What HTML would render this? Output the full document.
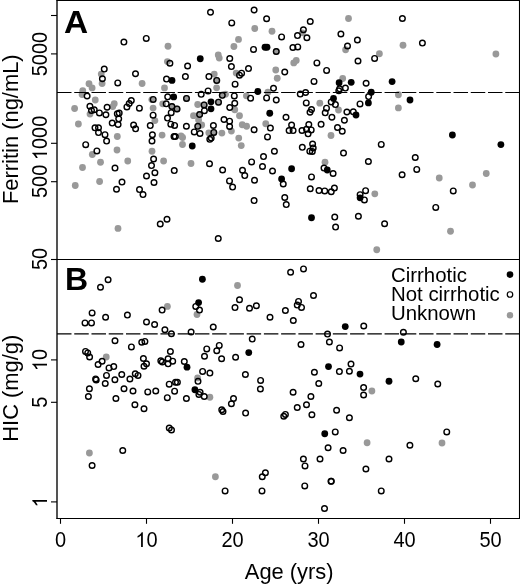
<!DOCTYPE html><html><head><meta charset="utf-8"><style>html,body{margin:0;padding:0;background:#fff}svg{display:block;will-change:transform}</style></head><body><svg width="520" height="586" viewBox="0 0 520 586">
<rect width="520" height="586" fill="#fff"/>
<g fill="none" stroke="#000" stroke-width="1.1">
<path d="M56.5,0.5 H519.5 M519.5,0 V519 M56.5,518.5 H519.5 M56.5,259.5 H519.5"/>
<path d="M57,0 V519" stroke-width="1.35"/>
</g>
<g stroke="#000" stroke-width="1.1">
<path d="M51,15.5 H57"/>
<path d="M51,53.9 H57"/>
<path d="M51,143.3 H57"/>
<path d="M51,181.7 H57"/>
<path d="M51,259.5 H57"/>
<path d="M51,359.9 H57"/>
<path d="M51,402.3 H57"/>
<path d="M51,501.9 H57"/>
<path d="M60.5,518.5 V523.8"/>
<path d="M146.5,518.5 V523.8"/>
<path d="M232.5,518.5 V523.8"/>
<path d="M318.5,518.5 V523.8"/>
<path d="M404.5,518.5 V523.8"/>
<path d="M490.5,518.5 V523.8"/>
</g>
<g font-family="Liberation Sans, sans-serif" font-size="20" fill="#000">
<g transform="translate(60.5,547)"><text transform="translate(-5.56,0) scale(1,1.065)">0</text></g>
<g transform="translate(146.5,547)"><path transform="translate(-11.12,0) scale(0.00977,-0.00996)" d="M763 0L583 0L583 1147Q518 1085 412.5 1023Q307 961 223 930L223 1104Q374 1175 487 1276Q600 1377 647 1472L763 1472Z"/><text transform="translate(0.00,0) scale(1,1.065)">0</text></g>
<g transform="translate(232.5,547)"><text transform="translate(-11.12,0) scale(1,1.065)">2</text><text transform="translate(0.00,0) scale(1,1.065)">0</text></g>
<g transform="translate(318.5,547)"><text transform="translate(-11.12,0) scale(1,1.065)">3</text><text transform="translate(0.00,0) scale(1,1.065)">0</text></g>
<g transform="translate(404.5,547)"><text transform="translate(-11.12,0) scale(1,1.065)">4</text><text transform="translate(0.00,0) scale(1,1.065)">0</text></g>
<g transform="translate(490.5,547)"><text transform="translate(-11.12,0) scale(1,1.065)">5</text><text transform="translate(0.00,0) scale(1,1.065)">0</text></g>
<g transform="translate(47,54.1) rotate(-90)"><text transform="translate(-22.25,0) scale(1,1.065)">5</text><text transform="translate(-11.12,0) scale(1,1.065)">0</text><text transform="translate(0.00,0) scale(1,1.065)">0</text><text transform="translate(11.12,0) scale(1,1.065)">0</text></g>
<g transform="translate(47,137.9) rotate(-90)"><path transform="translate(-22.25,0) scale(0.00977,-0.00996)" d="M763 0L583 0L583 1147Q518 1085 412.5 1023Q307 961 223 930L223 1104Q374 1175 487 1276Q600 1377 647 1472L763 1472Z"/><text transform="translate(-11.12,0) scale(1,1.065)">0</text><text transform="translate(0.00,0) scale(1,1.065)">0</text><text transform="translate(11.12,0) scale(1,1.065)">0</text></g>
<g transform="translate(47,181.4) rotate(-90)"><text transform="translate(-16.68,0) scale(1,1.065)">5</text><text transform="translate(-5.56,0) scale(1,1.065)">0</text><text transform="translate(5.56,0) scale(1,1.065)">0</text></g>
<g transform="translate(47,258.9) rotate(-90)"><text transform="translate(-11.12,0) scale(1,1.065)">5</text><text transform="translate(0.00,0) scale(1,1.065)">0</text></g>
<g transform="translate(47,360.0) rotate(-90)"><path transform="translate(-11.12,0) scale(0.00977,-0.00996)" d="M763 0L583 0L583 1147Q518 1085 412.5 1023Q307 961 223 930L223 1104Q374 1175 487 1276Q600 1377 647 1472L763 1472Z"/><text transform="translate(0.00,0) scale(1,1.065)">0</text></g>
<g transform="translate(47,402.2) rotate(-90)"><text transform="translate(-5.56,0) scale(1,1.065)">5</text></g>
<g transform="translate(47,501.9) rotate(-90)"><path transform="translate(-5.56,0) scale(0.00977,-0.00996)" d="M763 0L583 0L583 1147Q518 1085 412.5 1023Q307 961 223 930L223 1104Q374 1175 487 1276Q600 1377 647 1472L763 1472Z"/></g>
</g>
<g font-family="Liberation Sans, sans-serif" font-size="21.9" text-anchor="middle" fill="#000">
<text x="289.2" y="579">Age (yrs)</text>
<text transform="translate(17.7,129.2) rotate(-90)">Ferritin (ng/mL)</text>
<text transform="translate(17.7,388.2) rotate(-90)">HIC (mg/g)</text>
</g>
<g font-family="Liberation Sans, sans-serif" font-size="32" font-weight="bold" fill="#000">
<text transform="translate(63.9,32.7) scale(1.045,1)">A</text>
<text x="64.9" y="290.3">B</text>
</g>
<g font-family="Liberation Sans, sans-serif" font-size="20.4" fill="#000">
<text x="391" y="282.1">Cirrhotic</text>
<text x="391" y="301.2">Not cirrhotic</text>
<text x="391" y="320.4">Unknown</text>
</g>
<circle cx="510" cy="274.6" r="3.3" fill="#000"/>
<circle cx="510" cy="294.5" r="2.75" fill="#fff" stroke="#000" stroke-width="1.2"/>
<circle cx="510" cy="315.2" r="3.2" fill="#999"/>
<circle cx="168.0" cy="46.25" r="3.4" fill="#999"/>
<circle cx="233.9" cy="46.5" r="3.4" fill="#999"/>
<circle cx="218.25" cy="55.0" r="3.4" fill="#999"/>
<circle cx="219.25" cy="58.1" r="3.4" fill="#999"/>
<circle cx="254.75" cy="28.5" r="3.4" fill="#999"/>
<circle cx="272.0" cy="31.25" r="3.4" fill="#999"/>
<circle cx="238.5" cy="39.4" r="3.4" fill="#999"/>
<circle cx="276.25" cy="51.5" r="3.4" fill="#999"/>
<circle cx="302.3" cy="32.8" r="3.4" fill="#999"/>
<circle cx="348.5" cy="18.5" r="3.4" fill="#999"/>
<circle cx="345.6" cy="49.75" r="3.4" fill="#999"/>
<circle cx="403.0" cy="45.25" r="3.4" fill="#999"/>
<circle cx="379.4" cy="53.75" r="3.4" fill="#999"/>
<circle cx="495.9" cy="54.0" r="3.4" fill="#999"/>
<circle cx="101.25" cy="74.1" r="3.4" fill="#999"/>
<circle cx="102.1" cy="83.5" r="3.4" fill="#999"/>
<circle cx="89.0" cy="83.75" r="3.4" fill="#999"/>
<circle cx="92.1" cy="87.9" r="3.4" fill="#999"/>
<circle cx="82.75" cy="90.75" r="3.4" fill="#999"/>
<circle cx="82.1" cy="94.5" r="3.4" fill="#999"/>
<circle cx="95.25" cy="100.0" r="3.4" fill="#999"/>
<circle cx="74.6" cy="108.5" r="3.4" fill="#999"/>
<circle cx="90.0" cy="114.1" r="3.4" fill="#999"/>
<circle cx="114.25" cy="103.75" r="3.4" fill="#999"/>
<circle cx="112.75" cy="106.6" r="3.4" fill="#999"/>
<circle cx="167.4" cy="61.6" r="3.4" fill="#999"/>
<circle cx="142.1" cy="83.5" r="3.4" fill="#999"/>
<circle cx="164.5" cy="87.9" r="3.4" fill="#999"/>
<circle cx="151.8" cy="99.6" r="3.4" fill="#999"/>
<circle cx="153.1" cy="108.1" r="3.4" fill="#999"/>
<circle cx="162.7" cy="103.8" r="3.4" fill="#999"/>
<circle cx="171.9" cy="106.5" r="3.4" fill="#999"/>
<circle cx="214.25" cy="74.1" r="3.4" fill="#999"/>
<circle cx="216.5" cy="80.2" r="3.4" fill="#999"/>
<circle cx="216.6" cy="87.8" r="3.4" fill="#999"/>
<circle cx="222.3" cy="95.3" r="3.4" fill="#999"/>
<circle cx="225.5" cy="94.2" r="3.4" fill="#999"/>
<circle cx="186.5" cy="98.4" r="3.4" fill="#999"/>
<circle cx="218.5" cy="102.2" r="3.4" fill="#999"/>
<circle cx="197.7" cy="104.5" r="3.4" fill="#999"/>
<circle cx="204.1" cy="104.9" r="3.4" fill="#999"/>
<circle cx="199.6" cy="114.5" r="3.4" fill="#999"/>
<circle cx="193.5" cy="115.7" r="3.4" fill="#999"/>
<circle cx="177.0" cy="108.9" r="3.4" fill="#999"/>
<circle cx="236.2" cy="73.1" r="3.4" fill="#999"/>
<circle cx="275.75" cy="70.0" r="3.4" fill="#999"/>
<circle cx="277.25" cy="78.25" r="3.4" fill="#999"/>
<circle cx="267.9" cy="92.25" r="3.4" fill="#999"/>
<circle cx="246.4" cy="95.8" r="3.4" fill="#999"/>
<circle cx="234.75" cy="109.75" r="3.4" fill="#999"/>
<circle cx="239.5" cy="115.75" r="3.4" fill="#999"/>
<circle cx="296.25" cy="60.4" r="3.4" fill="#999"/>
<circle cx="293.75" cy="62.9" r="3.4" fill="#999"/>
<circle cx="342.7" cy="78.5" r="3.4" fill="#999"/>
<circle cx="319.8" cy="103.2" r="3.4" fill="#999"/>
<circle cx="338.5" cy="110.0" r="3.4" fill="#999"/>
<circle cx="398.4" cy="94.75" r="3.4" fill="#999"/>
<circle cx="398.4" cy="107.9" r="3.4" fill="#999"/>
<circle cx="78.4" cy="124.0" r="3.4" fill="#999"/>
<circle cx="92.3" cy="154.5" r="3.4" fill="#999"/>
<circle cx="100.5" cy="162.25" r="3.4" fill="#999"/>
<circle cx="82.5" cy="167.5" r="3.4" fill="#999"/>
<circle cx="154.9" cy="120.6" r="3.4" fill="#999"/>
<circle cx="117.3" cy="136.5" r="3.4" fill="#999"/>
<circle cx="162.1" cy="135.1" r="3.4" fill="#999"/>
<circle cx="117.0" cy="150.0" r="3.4" fill="#999"/>
<circle cx="152.0" cy="151.25" r="3.4" fill="#999"/>
<circle cx="127.75" cy="161.0" r="3.4" fill="#999"/>
<circle cx="163.6" cy="161.0" r="3.4" fill="#999"/>
<circle cx="198.6" cy="120.0" r="3.4" fill="#999"/>
<circle cx="201.7" cy="125.0" r="3.4" fill="#999"/>
<circle cx="197.8" cy="126.3" r="3.4" fill="#999"/>
<circle cx="182.6" cy="137.5" r="3.4" fill="#999"/>
<circle cx="181.0" cy="135.8" r="3.4" fill="#999"/>
<circle cx="182.5" cy="144.5" r="3.4" fill="#999"/>
<circle cx="208.8" cy="132.8" r="3.4" fill="#999"/>
<circle cx="213.8" cy="132.4" r="3.4" fill="#999"/>
<circle cx="221.9" cy="133.1" r="3.4" fill="#999"/>
<circle cx="231.4" cy="131.1" r="3.4" fill="#999"/>
<circle cx="191.0" cy="163.5" r="3.4" fill="#999"/>
<circle cx="242.25" cy="124.75" r="3.4" fill="#999"/>
<circle cx="246.6" cy="126.25" r="3.4" fill="#999"/>
<circle cx="265.75" cy="123.75" r="3.4" fill="#999"/>
<circle cx="238.75" cy="138.1" r="3.4" fill="#999"/>
<circle cx="241.25" cy="145.6" r="3.4" fill="#999"/>
<circle cx="331.0" cy="135.5" r="3.4" fill="#999"/>
<circle cx="325.0" cy="162.25" r="3.4" fill="#999"/>
<circle cx="486.25" cy="173.5" r="3.4" fill="#999"/>
<circle cx="75.25" cy="185.5" r="3.4" fill="#999"/>
<circle cx="99.6" cy="181.5" r="3.4" fill="#999"/>
<circle cx="118.0" cy="228.4" r="3.4" fill="#999"/>
<circle cx="374.8" cy="193.8" r="3.4" fill="#999"/>
<circle cx="439.25" cy="178.0" r="3.4" fill="#999"/>
<circle cx="450.5" cy="231.25" r="3.4" fill="#999"/>
<circle cx="472.5" cy="185.0" r="3.4" fill="#999"/>
<circle cx="376.75" cy="249.75" r="3.4" fill="#999"/>
<circle cx="167.4" cy="306.4" r="3.4" fill="#999"/>
<circle cx="197.0" cy="314.5" r="3.4" fill="#999"/>
<circle cx="237.5" cy="285.5" r="3.4" fill="#999"/>
<circle cx="106.25" cy="357.0" r="3.4" fill="#999"/>
<circle cx="197.6" cy="377.9" r="3.4" fill="#999"/>
<circle cx="209.9" cy="397.25" r="3.4" fill="#999"/>
<circle cx="371.9" cy="391.0" r="3.4" fill="#999"/>
<circle cx="89.4" cy="453.0" r="3.4" fill="#999"/>
<circle cx="215.4" cy="476.75" r="3.4" fill="#999"/>
<circle cx="367.1" cy="442.75" r="3.4" fill="#999"/>
<circle cx="442.0" cy="443.0" r="3.4" fill="#999"/>
<circle cx="123.9" cy="42.1" r="2.8" fill="none" stroke="#000" stroke-width="1.4"/>
<circle cx="146.25" cy="38.4" r="2.8" fill="none" stroke="#000" stroke-width="1.4"/>
<circle cx="210.5" cy="12.25" r="2.8" fill="none" stroke="#000" stroke-width="1.4"/>
<circle cx="231.75" cy="22.9" r="2.8" fill="none" stroke="#000" stroke-width="1.4"/>
<circle cx="229.75" cy="58.5" r="2.8" fill="none" stroke="#000" stroke-width="1.4"/>
<circle cx="254.1" cy="10.0" r="2.8" fill="none" stroke="#000" stroke-width="1.4"/>
<circle cx="266.6" cy="18.75" r="2.8" fill="none" stroke="#000" stroke-width="1.4"/>
<circle cx="281.6" cy="36.9" r="2.8" fill="none" stroke="#000" stroke-width="1.4"/>
<circle cx="253.5" cy="49.4" r="2.8" fill="none" stroke="#000" stroke-width="1.4"/>
<circle cx="276.25" cy="51.5" r="2.8" fill="none" stroke="#000" stroke-width="1.4"/>
<circle cx="292.9" cy="47.5" r="2.8" fill="none" stroke="#000" stroke-width="1.4"/>
<circle cx="310.25" cy="21.5" r="2.8" fill="none" stroke="#000" stroke-width="1.4"/>
<circle cx="303.4" cy="29.75" r="2.8" fill="none" stroke="#000" stroke-width="1.4"/>
<circle cx="297.5" cy="35.6" r="2.8" fill="none" stroke="#000" stroke-width="1.4"/>
<circle cx="306.9" cy="37.75" r="2.8" fill="none" stroke="#000" stroke-width="1.4"/>
<circle cx="297.75" cy="46.9" r="2.8" fill="none" stroke="#000" stroke-width="1.4"/>
<circle cx="340.9" cy="34.0" r="2.8" fill="none" stroke="#000" stroke-width="1.4"/>
<circle cx="347.5" cy="46.0" r="2.8" fill="none" stroke="#000" stroke-width="1.4"/>
<circle cx="402.4" cy="18.5" r="2.8" fill="none" stroke="#000" stroke-width="1.4"/>
<circle cx="357.4" cy="40.0" r="2.8" fill="none" stroke="#000" stroke-width="1.4"/>
<circle cx="374.6" cy="58.4" r="2.8" fill="none" stroke="#000" stroke-width="1.4"/>
<circle cx="422.4" cy="43.1" r="2.8" fill="none" stroke="#000" stroke-width="1.4"/>
<circle cx="104.25" cy="69.1" r="2.8" fill="none" stroke="#000" stroke-width="1.4"/>
<circle cx="102.4" cy="78.75" r="2.8" fill="none" stroke="#000" stroke-width="1.4"/>
<circle cx="87.1" cy="96.0" r="2.8" fill="none" stroke="#000" stroke-width="1.4"/>
<circle cx="89.9" cy="106.25" r="2.8" fill="none" stroke="#000" stroke-width="1.4"/>
<circle cx="91.5" cy="110.4" r="2.8" fill="none" stroke="#000" stroke-width="1.4"/>
<circle cx="94.25" cy="109.75" r="2.8" fill="none" stroke="#000" stroke-width="1.4"/>
<circle cx="99.4" cy="112.9" r="2.8" fill="none" stroke="#000" stroke-width="1.4"/>
<circle cx="105.9" cy="114.75" r="2.8" fill="none" stroke="#000" stroke-width="1.4"/>
<circle cx="107.1" cy="107.25" r="2.8" fill="none" stroke="#000" stroke-width="1.4"/>
<circle cx="169.9" cy="63.25" r="2.8" fill="none" stroke="#000" stroke-width="1.4"/>
<circle cx="135.5" cy="73.75" r="2.8" fill="none" stroke="#000" stroke-width="1.4"/>
<circle cx="117.75" cy="82.9" r="2.8" fill="none" stroke="#000" stroke-width="1.4"/>
<circle cx="166.5" cy="79.1" r="2.8" fill="none" stroke="#000" stroke-width="1.4"/>
<circle cx="131.3" cy="100.6" r="2.8" fill="none" stroke="#000" stroke-width="1.4"/>
<circle cx="129.2" cy="103.5" r="2.8" fill="none" stroke="#000" stroke-width="1.4"/>
<circle cx="126.9" cy="106.9" r="2.8" fill="none" stroke="#000" stroke-width="1.4"/>
<circle cx="139.4" cy="108.2" r="2.8" fill="none" stroke="#000" stroke-width="1.4"/>
<circle cx="153.2" cy="99.4" r="2.8" fill="none" stroke="#000" stroke-width="1.4"/>
<circle cx="153.1" cy="115.2" r="2.8" fill="none" stroke="#000" stroke-width="1.4"/>
<circle cx="167.7" cy="96.8" r="2.8" fill="none" stroke="#000" stroke-width="1.4"/>
<circle cx="166.2" cy="103.8" r="2.8" fill="none" stroke="#000" stroke-width="1.4"/>
<circle cx="171.9" cy="106.5" r="2.8" fill="none" stroke="#000" stroke-width="1.4"/>
<circle cx="171.2" cy="112.7" r="2.8" fill="none" stroke="#000" stroke-width="1.4"/>
<circle cx="117.3" cy="113.8" r="2.8" fill="none" stroke="#000" stroke-width="1.4"/>
<circle cx="119.2" cy="113.1" r="2.8" fill="none" stroke="#000" stroke-width="1.4"/>
<circle cx="187.6" cy="66.0" r="2.8" fill="none" stroke="#000" stroke-width="1.4"/>
<circle cx="231.4" cy="66.6" r="2.8" fill="none" stroke="#000" stroke-width="1.4"/>
<circle cx="185.4" cy="76.6" r="2.8" fill="none" stroke="#000" stroke-width="1.4"/>
<circle cx="208.9" cy="76.6" r="2.8" fill="none" stroke="#000" stroke-width="1.4"/>
<circle cx="216.75" cy="80.4" r="2.8" fill="none" stroke="#000" stroke-width="1.4"/>
<circle cx="208.1" cy="90.9" r="2.8" fill="none" stroke="#000" stroke-width="1.4"/>
<circle cx="201.2" cy="94.3" r="2.8" fill="none" stroke="#000" stroke-width="1.4"/>
<circle cx="222.3" cy="95.3" r="2.8" fill="none" stroke="#000" stroke-width="1.4"/>
<circle cx="186.5" cy="98.4" r="2.8" fill="none" stroke="#000" stroke-width="1.4"/>
<circle cx="218.5" cy="102.2" r="2.8" fill="none" stroke="#000" stroke-width="1.4"/>
<circle cx="204.1" cy="104.9" r="2.8" fill="none" stroke="#000" stroke-width="1.4"/>
<circle cx="204.4" cy="110.7" r="2.8" fill="none" stroke="#000" stroke-width="1.4"/>
<circle cx="199.6" cy="114.5" r="2.8" fill="none" stroke="#000" stroke-width="1.4"/>
<circle cx="229.75" cy="107.5" r="2.8" fill="none" stroke="#000" stroke-width="1.4"/>
<circle cx="177.0" cy="108.9" r="2.8" fill="none" stroke="#000" stroke-width="1.4"/>
<circle cx="248.5" cy="68.6" r="2.8" fill="none" stroke="#000" stroke-width="1.4"/>
<circle cx="241.6" cy="73.2" r="2.8" fill="none" stroke="#000" stroke-width="1.4"/>
<circle cx="239.5" cy="75.2" r="2.8" fill="none" stroke="#000" stroke-width="1.4"/>
<circle cx="235.1" cy="84.2" r="2.8" fill="none" stroke="#000" stroke-width="1.4"/>
<circle cx="284.75" cy="72.0" r="2.8" fill="none" stroke="#000" stroke-width="1.4"/>
<circle cx="273.5" cy="88.25" r="2.8" fill="none" stroke="#000" stroke-width="1.4"/>
<circle cx="266.6" cy="97.9" r="2.8" fill="none" stroke="#000" stroke-width="1.4"/>
<circle cx="276.25" cy="100.0" r="2.8" fill="none" stroke="#000" stroke-width="1.4"/>
<circle cx="250.6" cy="98.2" r="2.8" fill="none" stroke="#000" stroke-width="1.4"/>
<circle cx="234.3" cy="95.9" r="2.8" fill="none" stroke="#000" stroke-width="1.4"/>
<circle cx="234.75" cy="103.25" r="2.8" fill="none" stroke="#000" stroke-width="1.4"/>
<circle cx="286.0" cy="117.25" r="2.8" fill="none" stroke="#000" stroke-width="1.4"/>
<circle cx="316.9" cy="62.9" r="2.8" fill="none" stroke="#000" stroke-width="1.4"/>
<circle cx="326.6" cy="70.4" r="2.8" fill="none" stroke="#000" stroke-width="1.4"/>
<circle cx="314.0" cy="81.4" r="2.8" fill="none" stroke="#000" stroke-width="1.4"/>
<circle cx="345.4" cy="88.1" r="2.8" fill="none" stroke="#000" stroke-width="1.4"/>
<circle cx="339.6" cy="88.8" r="2.8" fill="none" stroke="#000" stroke-width="1.4"/>
<circle cx="338.8" cy="90.8" r="2.8" fill="none" stroke="#000" stroke-width="1.4"/>
<circle cx="305.6" cy="92.5" r="2.8" fill="none" stroke="#000" stroke-width="1.4"/>
<circle cx="300.25" cy="94.1" r="2.8" fill="none" stroke="#000" stroke-width="1.4"/>
<circle cx="306.25" cy="102.9" r="2.8" fill="none" stroke="#000" stroke-width="1.4"/>
<circle cx="331.2" cy="101.9" r="2.8" fill="none" stroke="#000" stroke-width="1.4"/>
<circle cx="335.4" cy="104.6" r="2.8" fill="none" stroke="#000" stroke-width="1.4"/>
<circle cx="311.5" cy="109.5" r="2.8" fill="none" stroke="#000" stroke-width="1.4"/>
<circle cx="310.0" cy="112.25" r="2.8" fill="none" stroke="#000" stroke-width="1.4"/>
<circle cx="326.5" cy="108.2" r="2.8" fill="none" stroke="#000" stroke-width="1.4"/>
<circle cx="325.2" cy="112.8" r="2.8" fill="none" stroke="#000" stroke-width="1.4"/>
<circle cx="346.9" cy="112.0" r="2.8" fill="none" stroke="#000" stroke-width="1.4"/>
<circle cx="331.9" cy="117.25" r="2.8" fill="none" stroke="#000" stroke-width="1.4"/>
<circle cx="358.0" cy="61.0" r="2.8" fill="none" stroke="#000" stroke-width="1.4"/>
<circle cx="366.1" cy="83.25" r="2.8" fill="none" stroke="#000" stroke-width="1.4"/>
<circle cx="368.6" cy="96.6" r="2.8" fill="none" stroke="#000" stroke-width="1.4"/>
<circle cx="360.0" cy="103.9" r="2.8" fill="none" stroke="#000" stroke-width="1.4"/>
<circle cx="353.3" cy="111.8" r="2.8" fill="none" stroke="#000" stroke-width="1.4"/>
<circle cx="95.0" cy="127.8" r="2.8" fill="none" stroke="#000" stroke-width="1.4"/>
<circle cx="98.5" cy="127.8" r="2.8" fill="none" stroke="#000" stroke-width="1.4"/>
<circle cx="98.5" cy="132.6" r="2.8" fill="none" stroke="#000" stroke-width="1.4"/>
<circle cx="105.0" cy="134.7" r="2.8" fill="none" stroke="#000" stroke-width="1.4"/>
<circle cx="106.6" cy="141.1" r="2.8" fill="none" stroke="#000" stroke-width="1.4"/>
<circle cx="112.2" cy="123.1" r="2.8" fill="none" stroke="#000" stroke-width="1.4"/>
<circle cx="85.7" cy="144.7" r="2.8" fill="none" stroke="#000" stroke-width="1.4"/>
<circle cx="96.9" cy="150.9" r="2.8" fill="none" stroke="#000" stroke-width="1.4"/>
<circle cx="115.0" cy="168.1" r="2.8" fill="none" stroke="#000" stroke-width="1.4"/>
<circle cx="118.7" cy="118.8" r="2.8" fill="none" stroke="#000" stroke-width="1.4"/>
<circle cx="118.1" cy="124.5" r="2.8" fill="none" stroke="#000" stroke-width="1.4"/>
<circle cx="133.6" cy="125.0" r="2.8" fill="none" stroke="#000" stroke-width="1.4"/>
<circle cx="135.6" cy="128.8" r="2.8" fill="none" stroke="#000" stroke-width="1.4"/>
<circle cx="150.25" cy="125.6" r="2.8" fill="none" stroke="#000" stroke-width="1.4"/>
<circle cx="167.5" cy="118.1" r="2.8" fill="none" stroke="#000" stroke-width="1.4"/>
<circle cx="170.8" cy="124.2" r="2.8" fill="none" stroke="#000" stroke-width="1.4"/>
<circle cx="174.6" cy="125.4" r="2.8" fill="none" stroke="#000" stroke-width="1.4"/>
<circle cx="152.4" cy="134.75" r="2.8" fill="none" stroke="#000" stroke-width="1.4"/>
<circle cx="152.0" cy="141.0" r="2.8" fill="none" stroke="#000" stroke-width="1.4"/>
<circle cx="174.0" cy="136.6" r="2.8" fill="none" stroke="#000" stroke-width="1.4"/>
<circle cx="175.3" cy="136.6" r="2.8" fill="none" stroke="#000" stroke-width="1.4"/>
<circle cx="153.6" cy="159.0" r="2.8" fill="none" stroke="#000" stroke-width="1.4"/>
<circle cx="151.5" cy="165.6" r="2.8" fill="none" stroke="#000" stroke-width="1.4"/>
<circle cx="174.25" cy="170.6" r="2.8" fill="none" stroke="#000" stroke-width="1.4"/>
<circle cx="154.9" cy="172.75" r="2.8" fill="none" stroke="#000" stroke-width="1.4"/>
<circle cx="146.5" cy="176.0" r="2.8" fill="none" stroke="#000" stroke-width="1.4"/>
<circle cx="186.4" cy="126.25" r="2.8" fill="none" stroke="#000" stroke-width="1.4"/>
<circle cx="197.8" cy="126.3" r="2.8" fill="none" stroke="#000" stroke-width="1.4"/>
<circle cx="194.25" cy="131.9" r="2.8" fill="none" stroke="#000" stroke-width="1.4"/>
<circle cx="200.0" cy="133.5" r="2.8" fill="none" stroke="#000" stroke-width="1.4"/>
<circle cx="213.4" cy="125.5" r="2.8" fill="none" stroke="#000" stroke-width="1.4"/>
<circle cx="213.8" cy="132.4" r="2.8" fill="none" stroke="#000" stroke-width="1.4"/>
<circle cx="211.2" cy="138.1" r="2.8" fill="none" stroke="#000" stroke-width="1.4"/>
<circle cx="209.8" cy="139.3" r="2.8" fill="none" stroke="#000" stroke-width="1.4"/>
<circle cx="224.0" cy="119.5" r="2.8" fill="none" stroke="#000" stroke-width="1.4"/>
<circle cx="229.6" cy="121.2" r="2.8" fill="none" stroke="#000" stroke-width="1.4"/>
<circle cx="229.6" cy="126.5" r="2.8" fill="none" stroke="#000" stroke-width="1.4"/>
<circle cx="209.5" cy="163.75" r="2.8" fill="none" stroke="#000" stroke-width="1.4"/>
<circle cx="222.6" cy="170.0" r="2.8" fill="none" stroke="#000" stroke-width="1.4"/>
<circle cx="254.1" cy="129.75" r="2.8" fill="none" stroke="#000" stroke-width="1.4"/>
<circle cx="270.4" cy="128.1" r="2.8" fill="none" stroke="#000" stroke-width="1.4"/>
<circle cx="267.5" cy="136.9" r="2.8" fill="none" stroke="#000" stroke-width="1.4"/>
<circle cx="291.6" cy="125.0" r="2.8" fill="none" stroke="#000" stroke-width="1.4"/>
<circle cx="289.1" cy="130.6" r="2.8" fill="none" stroke="#000" stroke-width="1.4"/>
<circle cx="293.1" cy="130.6" r="2.8" fill="none" stroke="#000" stroke-width="1.4"/>
<circle cx="274.4" cy="151.25" r="2.8" fill="none" stroke="#000" stroke-width="1.4"/>
<circle cx="263.5" cy="156.6" r="2.8" fill="none" stroke="#000" stroke-width="1.4"/>
<circle cx="251.6" cy="161.9" r="2.8" fill="none" stroke="#000" stroke-width="1.4"/>
<circle cx="262.5" cy="166.5" r="2.8" fill="none" stroke="#000" stroke-width="1.4"/>
<circle cx="242.5" cy="170.25" r="2.8" fill="none" stroke="#000" stroke-width="1.4"/>
<circle cx="244.75" cy="175.6" r="2.8" fill="none" stroke="#000" stroke-width="1.4"/>
<circle cx="272.5" cy="171.0" r="2.8" fill="none" stroke="#000" stroke-width="1.4"/>
<circle cx="344.4" cy="120.25" r="2.8" fill="none" stroke="#000" stroke-width="1.4"/>
<circle cx="302.0" cy="130.5" r="2.8" fill="none" stroke="#000" stroke-width="1.4"/>
<circle cx="308.8" cy="124.6" r="2.8" fill="none" stroke="#000" stroke-width="1.4"/>
<circle cx="306.5" cy="129.3" r="2.8" fill="none" stroke="#000" stroke-width="1.4"/>
<circle cx="311.2" cy="129.9" r="2.8" fill="none" stroke="#000" stroke-width="1.4"/>
<circle cx="308.1" cy="133.8" r="2.8" fill="none" stroke="#000" stroke-width="1.4"/>
<circle cx="321.1" cy="124.3" r="2.8" fill="none" stroke="#000" stroke-width="1.4"/>
<circle cx="337.5" cy="127.5" r="2.8" fill="none" stroke="#000" stroke-width="1.4"/>
<circle cx="342.25" cy="131.25" r="2.8" fill="none" stroke="#000" stroke-width="1.4"/>
<circle cx="302.3" cy="147.3" r="2.8" fill="none" stroke="#000" stroke-width="1.4"/>
<circle cx="312.6" cy="144.1" r="2.8" fill="none" stroke="#000" stroke-width="1.4"/>
<circle cx="313.2" cy="147.9" r="2.8" fill="none" stroke="#000" stroke-width="1.4"/>
<circle cx="309.8" cy="151.2" r="2.8" fill="none" stroke="#000" stroke-width="1.4"/>
<circle cx="312.3" cy="151.5" r="2.8" fill="none" stroke="#000" stroke-width="1.4"/>
<circle cx="343.5" cy="153.1" r="2.8" fill="none" stroke="#000" stroke-width="1.4"/>
<circle cx="324.0" cy="168.1" r="2.8" fill="none" stroke="#000" stroke-width="1.4"/>
<circle cx="333.1" cy="173.5" r="2.8" fill="none" stroke="#000" stroke-width="1.4"/>
<circle cx="311.5" cy="176.9" r="2.8" fill="none" stroke="#000" stroke-width="1.4"/>
<circle cx="381.25" cy="144.4" r="2.8" fill="none" stroke="#000" stroke-width="1.4"/>
<circle cx="368.4" cy="161.5" r="2.8" fill="none" stroke="#000" stroke-width="1.4"/>
<circle cx="402.1" cy="174.75" r="2.8" fill="none" stroke="#000" stroke-width="1.4"/>
<circle cx="415.25" cy="157.5" r="2.8" fill="none" stroke="#000" stroke-width="1.4"/>
<circle cx="416.75" cy="169.4" r="2.8" fill="none" stroke="#000" stroke-width="1.4"/>
<circle cx="122.0" cy="182.1" r="2.8" fill="none" stroke="#000" stroke-width="1.4"/>
<circle cx="116.5" cy="189.25" r="2.8" fill="none" stroke="#000" stroke-width="1.4"/>
<circle cx="139.5" cy="189.6" r="2.8" fill="none" stroke="#000" stroke-width="1.4"/>
<circle cx="143.0" cy="194.6" r="2.8" fill="none" stroke="#000" stroke-width="1.4"/>
<circle cx="154.0" cy="182.5" r="2.8" fill="none" stroke="#000" stroke-width="1.4"/>
<circle cx="167.0" cy="219.25" r="2.8" fill="none" stroke="#000" stroke-width="1.4"/>
<circle cx="160.25" cy="224.0" r="2.8" fill="none" stroke="#000" stroke-width="1.4"/>
<circle cx="229.5" cy="180.9" r="2.8" fill="none" stroke="#000" stroke-width="1.4"/>
<circle cx="232.6" cy="187.1" r="2.8" fill="none" stroke="#000" stroke-width="1.4"/>
<circle cx="254.5" cy="180.25" r="2.8" fill="none" stroke="#000" stroke-width="1.4"/>
<circle cx="283.25" cy="184.0" r="2.8" fill="none" stroke="#000" stroke-width="1.4"/>
<circle cx="284.75" cy="197.5" r="2.8" fill="none" stroke="#000" stroke-width="1.4"/>
<circle cx="286.25" cy="204.6" r="2.8" fill="none" stroke="#000" stroke-width="1.4"/>
<circle cx="254.1" cy="200.6" r="2.8" fill="none" stroke="#000" stroke-width="1.4"/>
<circle cx="310.25" cy="188.75" r="2.8" fill="none" stroke="#000" stroke-width="1.4"/>
<circle cx="319.0" cy="190.6" r="2.8" fill="none" stroke="#000" stroke-width="1.4"/>
<circle cx="324.75" cy="190.9" r="2.8" fill="none" stroke="#000" stroke-width="1.4"/>
<circle cx="331.25" cy="191.75" r="2.8" fill="none" stroke="#000" stroke-width="1.4"/>
<circle cx="334.4" cy="188.0" r="2.8" fill="none" stroke="#000" stroke-width="1.4"/>
<circle cx="334.75" cy="217.1" r="2.8" fill="none" stroke="#000" stroke-width="1.4"/>
<circle cx="335.6" cy="227.1" r="2.8" fill="none" stroke="#000" stroke-width="1.4"/>
<circle cx="365.6" cy="190.7" r="2.8" fill="none" stroke="#000" stroke-width="1.4"/>
<circle cx="360.1" cy="194.7" r="2.8" fill="none" stroke="#000" stroke-width="1.4"/>
<circle cx="364.4" cy="199.9" r="2.8" fill="none" stroke="#000" stroke-width="1.4"/>
<circle cx="358.4" cy="216.25" r="2.8" fill="none" stroke="#000" stroke-width="1.4"/>
<circle cx="384.6" cy="223.75" r="2.8" fill="none" stroke="#000" stroke-width="1.4"/>
<circle cx="453.25" cy="190.9" r="2.8" fill="none" stroke="#000" stroke-width="1.4"/>
<circle cx="435.75" cy="207.4" r="2.8" fill="none" stroke="#000" stroke-width="1.4"/>
<circle cx="218.25" cy="238.5" r="2.8" fill="none" stroke="#000" stroke-width="1.4"/>
<circle cx="108.1" cy="279.75" r="2.8" fill="none" stroke="#000" stroke-width="1.4"/>
<circle cx="100.5" cy="287.25" r="2.8" fill="none" stroke="#000" stroke-width="1.4"/>
<circle cx="92.1" cy="312.9" r="2.8" fill="none" stroke="#000" stroke-width="1.4"/>
<circle cx="105.6" cy="317.25" r="2.8" fill="none" stroke="#000" stroke-width="1.4"/>
<circle cx="162.1" cy="310.1" r="2.8" fill="none" stroke="#000" stroke-width="1.4"/>
<circle cx="127.4" cy="315.1" r="2.8" fill="none" stroke="#000" stroke-width="1.4"/>
<circle cx="195.75" cy="306.4" r="2.8" fill="none" stroke="#000" stroke-width="1.4"/>
<circle cx="199.5" cy="310.1" r="2.8" fill="none" stroke="#000" stroke-width="1.4"/>
<circle cx="290.6" cy="272.25" r="2.8" fill="none" stroke="#000" stroke-width="1.4"/>
<circle cx="239.5" cy="299.75" r="2.8" fill="none" stroke="#000" stroke-width="1.4"/>
<circle cx="235.0" cy="307.6" r="2.8" fill="none" stroke="#000" stroke-width="1.4"/>
<circle cx="249.5" cy="308.25" r="2.8" fill="none" stroke="#000" stroke-width="1.4"/>
<circle cx="256.4" cy="305.75" r="2.8" fill="none" stroke="#000" stroke-width="1.4"/>
<circle cx="285.4" cy="310.5" r="2.8" fill="none" stroke="#000" stroke-width="1.4"/>
<circle cx="270.0" cy="317.25" r="2.8" fill="none" stroke="#000" stroke-width="1.4"/>
<circle cx="303.5" cy="268.9" r="2.8" fill="none" stroke="#000" stroke-width="1.4"/>
<circle cx="313.5" cy="295.5" r="2.8" fill="none" stroke="#000" stroke-width="1.4"/>
<circle cx="298.5" cy="301.4" r="2.8" fill="none" stroke="#000" stroke-width="1.4"/>
<circle cx="297.25" cy="305.1" r="2.8" fill="none" stroke="#000" stroke-width="1.4"/>
<circle cx="301.5" cy="307.4" r="2.8" fill="none" stroke="#000" stroke-width="1.4"/>
<circle cx="85.0" cy="322.9" r="2.8" fill="none" stroke="#000" stroke-width="1.4"/>
<circle cx="91.5" cy="322.9" r="2.8" fill="none" stroke="#000" stroke-width="1.4"/>
<circle cx="115.0" cy="340.75" r="2.8" fill="none" stroke="#000" stroke-width="1.4"/>
<circle cx="85.5" cy="351.4" r="2.8" fill="none" stroke="#000" stroke-width="1.4"/>
<circle cx="87.75" cy="352.9" r="2.8" fill="none" stroke="#000" stroke-width="1.4"/>
<circle cx="89.6" cy="357.0" r="2.8" fill="none" stroke="#000" stroke-width="1.4"/>
<circle cx="102.1" cy="361.25" r="2.8" fill="none" stroke="#000" stroke-width="1.4"/>
<circle cx="98.1" cy="364.5" r="2.8" fill="none" stroke="#000" stroke-width="1.4"/>
<circle cx="109.0" cy="367.9" r="2.8" fill="none" stroke="#000" stroke-width="1.4"/>
<circle cx="113.75" cy="366.6" r="2.8" fill="none" stroke="#000" stroke-width="1.4"/>
<circle cx="106.5" cy="375.4" r="2.8" fill="none" stroke="#000" stroke-width="1.4"/>
<circle cx="146.5" cy="322.0" r="2.8" fill="none" stroke="#000" stroke-width="1.4"/>
<circle cx="154.6" cy="324.5" r="2.8" fill="none" stroke="#000" stroke-width="1.4"/>
<circle cx="164.9" cy="329.75" r="2.8" fill="none" stroke="#000" stroke-width="1.4"/>
<circle cx="171.4" cy="333.75" r="2.8" fill="none" stroke="#000" stroke-width="1.4"/>
<circle cx="141.75" cy="342.25" r="2.8" fill="none" stroke="#000" stroke-width="1.4"/>
<circle cx="144.9" cy="341.4" r="2.8" fill="none" stroke="#000" stroke-width="1.4"/>
<circle cx="131.4" cy="346.9" r="2.8" fill="none" stroke="#000" stroke-width="1.4"/>
<circle cx="170.4" cy="351.5" r="2.8" fill="none" stroke="#000" stroke-width="1.4"/>
<circle cx="143.4" cy="358.5" r="2.8" fill="none" stroke="#000" stroke-width="1.4"/>
<circle cx="146.5" cy="363.75" r="2.8" fill="none" stroke="#000" stroke-width="1.4"/>
<circle cx="144.0" cy="366.25" r="2.8" fill="none" stroke="#000" stroke-width="1.4"/>
<circle cx="160.8" cy="360.8" r="2.8" fill="none" stroke="#000" stroke-width="1.4"/>
<circle cx="162.3" cy="361.9" r="2.8" fill="none" stroke="#000" stroke-width="1.4"/>
<circle cx="168.1" cy="358.8" r="2.8" fill="none" stroke="#000" stroke-width="1.4"/>
<circle cx="172.7" cy="361.2" r="2.8" fill="none" stroke="#000" stroke-width="1.4"/>
<circle cx="168.1" cy="363.8" r="2.8" fill="none" stroke="#000" stroke-width="1.4"/>
<circle cx="121.75" cy="374.5" r="2.8" fill="none" stroke="#000" stroke-width="1.4"/>
<circle cx="135.25" cy="373.75" r="2.8" fill="none" stroke="#000" stroke-width="1.4"/>
<circle cx="138.0" cy="375.4" r="2.8" fill="none" stroke="#000" stroke-width="1.4"/>
<circle cx="191.1" cy="332.0" r="2.8" fill="none" stroke="#000" stroke-width="1.4"/>
<circle cx="213.25" cy="327.0" r="2.8" fill="none" stroke="#000" stroke-width="1.4"/>
<circle cx="206.75" cy="348.9" r="2.8" fill="none" stroke="#000" stroke-width="1.4"/>
<circle cx="219.25" cy="345.4" r="2.8" fill="none" stroke="#000" stroke-width="1.4"/>
<circle cx="216.75" cy="350.75" r="2.8" fill="none" stroke="#000" stroke-width="1.4"/>
<circle cx="204.5" cy="356.25" r="2.8" fill="none" stroke="#000" stroke-width="1.4"/>
<circle cx="221.6" cy="358.75" r="2.8" fill="none" stroke="#000" stroke-width="1.4"/>
<circle cx="184.3" cy="361.5" r="2.8" fill="none" stroke="#000" stroke-width="1.4"/>
<circle cx="202.6" cy="371.4" r="2.8" fill="none" stroke="#000" stroke-width="1.4"/>
<circle cx="209.9" cy="373.1" r="2.8" fill="none" stroke="#000" stroke-width="1.4"/>
<circle cx="293.3" cy="320.5" r="2.8" fill="none" stroke="#000" stroke-width="1.4"/>
<circle cx="252.25" cy="339.1" r="2.8" fill="none" stroke="#000" stroke-width="1.4"/>
<circle cx="235.6" cy="357.25" r="2.8" fill="none" stroke="#000" stroke-width="1.4"/>
<circle cx="245.4" cy="374.5" r="2.8" fill="none" stroke="#000" stroke-width="1.4"/>
<circle cx="327.5" cy="334.1" r="2.8" fill="none" stroke="#000" stroke-width="1.4"/>
<circle cx="301.0" cy="344.5" r="2.8" fill="none" stroke="#000" stroke-width="1.4"/>
<circle cx="329.4" cy="342.0" r="2.8" fill="none" stroke="#000" stroke-width="1.4"/>
<circle cx="339.6" cy="347.9" r="2.8" fill="none" stroke="#000" stroke-width="1.4"/>
<circle cx="314.4" cy="372.25" r="2.8" fill="none" stroke="#000" stroke-width="1.4"/>
<circle cx="339.4" cy="371.6" r="2.8" fill="none" stroke="#000" stroke-width="1.4"/>
<circle cx="351.0" cy="364.1" r="2.8" fill="none" stroke="#000" stroke-width="1.4"/>
<circle cx="349.4" cy="371.25" r="2.8" fill="none" stroke="#000" stroke-width="1.4"/>
<circle cx="363.75" cy="326.0" r="2.8" fill="none" stroke="#000" stroke-width="1.4"/>
<circle cx="403.4" cy="332.25" r="2.8" fill="none" stroke="#000" stroke-width="1.4"/>
<circle cx="95.6" cy="378.9" r="2.8" fill="none" stroke="#000" stroke-width="1.4"/>
<circle cx="96.2" cy="379.9" r="2.8" fill="none" stroke="#000" stroke-width="1.4"/>
<circle cx="105.25" cy="383.5" r="2.8" fill="none" stroke="#000" stroke-width="1.4"/>
<circle cx="114.9" cy="379.75" r="2.8" fill="none" stroke="#000" stroke-width="1.4"/>
<circle cx="89.4" cy="388.75" r="2.8" fill="none" stroke="#000" stroke-width="1.4"/>
<circle cx="88.4" cy="396.5" r="2.8" fill="none" stroke="#000" stroke-width="1.4"/>
<circle cx="115.9" cy="398.5" r="2.8" fill="none" stroke="#000" stroke-width="1.4"/>
<circle cx="129.9" cy="379.0" r="2.8" fill="none" stroke="#000" stroke-width="1.4"/>
<circle cx="124.0" cy="388.75" r="2.8" fill="none" stroke="#000" stroke-width="1.4"/>
<circle cx="133.0" cy="391.0" r="2.8" fill="none" stroke="#000" stroke-width="1.4"/>
<circle cx="147.75" cy="391.9" r="2.8" fill="none" stroke="#000" stroke-width="1.4"/>
<circle cx="155.75" cy="391.0" r="2.8" fill="none" stroke="#000" stroke-width="1.4"/>
<circle cx="169.2" cy="384.2" r="2.8" fill="none" stroke="#000" stroke-width="1.4"/>
<circle cx="174.6" cy="391.2" r="2.8" fill="none" stroke="#000" stroke-width="1.4"/>
<circle cx="167.3" cy="397.7" r="2.8" fill="none" stroke="#000" stroke-width="1.4"/>
<circle cx="134.9" cy="404.75" r="2.8" fill="none" stroke="#000" stroke-width="1.4"/>
<circle cx="144.0" cy="408.75" r="2.8" fill="none" stroke="#000" stroke-width="1.4"/>
<circle cx="169.25" cy="428.1" r="2.8" fill="none" stroke="#000" stroke-width="1.4"/>
<circle cx="171.5" cy="430.0" r="2.8" fill="none" stroke="#000" stroke-width="1.4"/>
<circle cx="175.5" cy="382.3" r="2.8" fill="none" stroke="#000" stroke-width="1.4"/>
<circle cx="177.4" cy="382.3" r="2.8" fill="none" stroke="#000" stroke-width="1.4"/>
<circle cx="198.0" cy="381.3" r="2.8" fill="none" stroke="#000" stroke-width="1.4"/>
<circle cx="200.1" cy="392.25" r="2.8" fill="none" stroke="#000" stroke-width="1.4"/>
<circle cx="198.9" cy="394.4" r="2.8" fill="none" stroke="#000" stroke-width="1.4"/>
<circle cx="204.25" cy="396.5" r="2.8" fill="none" stroke="#000" stroke-width="1.4"/>
<circle cx="186.4" cy="398.5" r="2.8" fill="none" stroke="#000" stroke-width="1.4"/>
<circle cx="233.5" cy="398.5" r="2.8" fill="none" stroke="#000" stroke-width="1.4"/>
<circle cx="231.4" cy="403.75" r="2.8" fill="none" stroke="#000" stroke-width="1.4"/>
<circle cx="221.75" cy="409.75" r="2.8" fill="none" stroke="#000" stroke-width="1.4"/>
<circle cx="223.0" cy="411.5" r="2.8" fill="none" stroke="#000" stroke-width="1.4"/>
<circle cx="260.6" cy="380.4" r="2.8" fill="none" stroke="#000" stroke-width="1.4"/>
<circle cx="260.4" cy="389.0" r="2.8" fill="none" stroke="#000" stroke-width="1.4"/>
<circle cx="245.6" cy="413.1" r="2.8" fill="none" stroke="#000" stroke-width="1.4"/>
<circle cx="285.4" cy="414.4" r="2.8" fill="none" stroke="#000" stroke-width="1.4"/>
<circle cx="283.75" cy="416.25" r="2.8" fill="none" stroke="#000" stroke-width="1.4"/>
<circle cx="293.1" cy="392.25" r="2.8" fill="none" stroke="#000" stroke-width="1.4"/>
<circle cx="318.75" cy="383.5" r="2.8" fill="none" stroke="#000" stroke-width="1.4"/>
<circle cx="310.9" cy="396.5" r="2.8" fill="none" stroke="#000" stroke-width="1.4"/>
<circle cx="306.5" cy="404.75" r="2.8" fill="none" stroke="#000" stroke-width="1.4"/>
<circle cx="297.25" cy="407.5" r="2.8" fill="none" stroke="#000" stroke-width="1.4"/>
<circle cx="311.9" cy="414.75" r="2.8" fill="none" stroke="#000" stroke-width="1.4"/>
<circle cx="336.6" cy="410.25" r="2.8" fill="none" stroke="#000" stroke-width="1.4"/>
<circle cx="349.4" cy="417.75" r="2.8" fill="none" stroke="#000" stroke-width="1.4"/>
<circle cx="335.25" cy="431.9" r="2.8" fill="none" stroke="#000" stroke-width="1.4"/>
<circle cx="363.6" cy="387.5" r="2.8" fill="none" stroke="#000" stroke-width="1.4"/>
<circle cx="363.6" cy="395.0" r="2.8" fill="none" stroke="#000" stroke-width="1.4"/>
<circle cx="415.75" cy="378.75" r="2.8" fill="none" stroke="#000" stroke-width="1.4"/>
<circle cx="437.75" cy="384.0" r="2.8" fill="none" stroke="#000" stroke-width="1.4"/>
<circle cx="446.75" cy="431.9" r="2.8" fill="none" stroke="#000" stroke-width="1.4"/>
<circle cx="92.1" cy="465.5" r="2.8" fill="none" stroke="#000" stroke-width="1.4"/>
<circle cx="122.75" cy="450.5" r="2.8" fill="none" stroke="#000" stroke-width="1.4"/>
<circle cx="225.1" cy="490.9" r="2.8" fill="none" stroke="#000" stroke-width="1.4"/>
<circle cx="265.4" cy="472.75" r="2.8" fill="none" stroke="#000" stroke-width="1.4"/>
<circle cx="262.25" cy="476.75" r="2.8" fill="none" stroke="#000" stroke-width="1.4"/>
<circle cx="262.0" cy="490.9" r="2.8" fill="none" stroke="#000" stroke-width="1.4"/>
<circle cx="328.1" cy="447.75" r="2.8" fill="none" stroke="#000" stroke-width="1.4"/>
<circle cx="343.1" cy="450.5" r="2.8" fill="none" stroke="#000" stroke-width="1.4"/>
<circle cx="303.4" cy="459.0" r="2.8" fill="none" stroke="#000" stroke-width="1.4"/>
<circle cx="305.0" cy="465.9" r="2.8" fill="none" stroke="#000" stroke-width="1.4"/>
<circle cx="320.0" cy="459.0" r="2.8" fill="none" stroke="#000" stroke-width="1.4"/>
<circle cx="331.0" cy="481.25" r="2.8" fill="none" stroke="#000" stroke-width="1.4"/>
<circle cx="304.75" cy="485.9" r="2.8" fill="none" stroke="#000" stroke-width="1.4"/>
<circle cx="409.9" cy="445.25" r="2.8" fill="none" stroke="#000" stroke-width="1.4"/>
<circle cx="389.0" cy="459.0" r="2.8" fill="none" stroke="#000" stroke-width="1.4"/>
<circle cx="365.9" cy="469.0" r="2.8" fill="none" stroke="#000" stroke-width="1.4"/>
<circle cx="381.25" cy="490.9" r="2.8" fill="none" stroke="#000" stroke-width="1.4"/>
<circle cx="324.5" cy="508.5" r="2.8" fill="none" stroke="#000" stroke-width="1.4"/>
<circle cx="331.3" cy="481.3" r="2.8" fill="none" stroke="#000" stroke-width="1.4"/>
<circle cx="200.25" cy="58.75" r="3.4" fill="#000"/>
<circle cx="265.0" cy="47.25" r="3.4" fill="#000"/>
<circle cx="267.0" cy="47.25" r="3.4" fill="#000"/>
<circle cx="172.0" cy="80.4" r="3.4" fill="#000"/>
<circle cx="173.7" cy="96.9" r="3.4" fill="#000"/>
<circle cx="211.0" cy="101.8" r="3.4" fill="#000"/>
<circle cx="211.0" cy="108.8" r="3.4" fill="#000"/>
<circle cx="257.8" cy="91.5" r="3.4" fill="#000"/>
<circle cx="269.75" cy="113.25" r="3.4" fill="#000"/>
<circle cx="339.1" cy="82.7" r="3.4" fill="#000"/>
<circle cx="351.2" cy="82.3" r="3.4" fill="#000"/>
<circle cx="333.5" cy="98.5" r="3.4" fill="#000"/>
<circle cx="392.1" cy="81.6" r="3.4" fill="#000"/>
<circle cx="371.25" cy="92.25" r="3.4" fill="#000"/>
<circle cx="368.4" cy="102.9" r="3.4" fill="#000"/>
<circle cx="356.0" cy="115.0" r="3.4" fill="#000"/>
<circle cx="410.0" cy="100.0" r="3.4" fill="#000"/>
<circle cx="192.25" cy="146.0" r="3.4" fill="#000"/>
<circle cx="291.6" cy="168.75" r="3.4" fill="#000"/>
<circle cx="327.25" cy="170.0" r="3.4" fill="#000"/>
<circle cx="452.4" cy="135.0" r="3.4" fill="#000"/>
<circle cx="500.9" cy="144.6" r="3.4" fill="#000"/>
<circle cx="281.6" cy="179.0" r="3.4" fill="#000"/>
<circle cx="311.5" cy="217.75" r="3.4" fill="#000"/>
<circle cx="360.1" cy="197.8" r="3.4" fill="#000"/>
<circle cx="202.4" cy="279.25" r="3.4" fill="#000"/>
<circle cx="198.6" cy="302.6" r="3.4" fill="#000"/>
<circle cx="187.0" cy="367.2" r="3.4" fill="#000"/>
<circle cx="248.75" cy="352.6" r="3.4" fill="#000"/>
<circle cx="345.25" cy="326.6" r="3.4" fill="#000"/>
<circle cx="328.5" cy="366.6" r="3.4" fill="#000"/>
<circle cx="401.25" cy="342.0" r="3.4" fill="#000"/>
<circle cx="360.0" cy="374.1" r="3.4" fill="#000"/>
<circle cx="437.1" cy="344.5" r="3.4" fill="#000"/>
<circle cx="194.9" cy="389.75" r="3.4" fill="#000"/>
<circle cx="324.75" cy="433.75" r="3.4" fill="#000"/>
<circle cx="389.0" cy="381.25" r="3.4" fill="#000"/>
<g stroke="#000" stroke-width="1.1" stroke-dasharray="14.5 2.74">
<path d="M57,92.5 H519"/>
<path d="M57,333.9 H519"/>
</g>
</svg></body></html>
